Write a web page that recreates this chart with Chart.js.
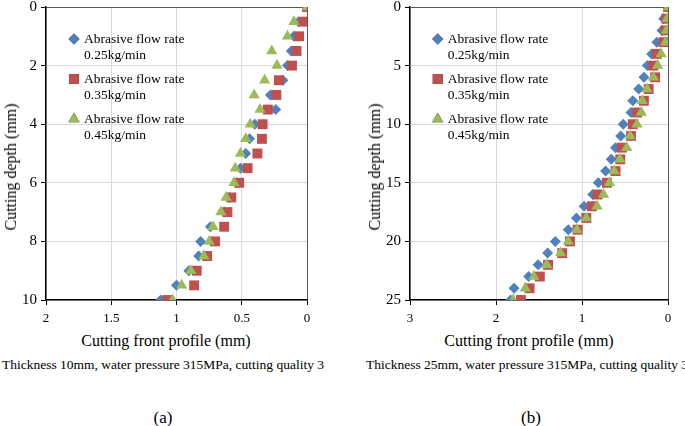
<!DOCTYPE html>
<html>
<head>
<meta charset="utf-8">
<script src="https://cdn.jsdelivr.net/npm/chart.js"></script>
<style>
  body { margin: 0; background: #fff; }
  #page { position: relative; width: 685px; height: 426px; overflow: hidden; color: #000; }
  canvas { position: absolute; top: 0; }
  .txt { position: absolute; white-space: nowrap; line-height: 1; transform: translate(-50%, -50%);
         font-family: "Liberation Serif", "Times New Roman", serif; color: #000; }
  .rot { transform: translate(-50%, -50%) rotate(-90deg); }
</style>
</head>
<body>
<div id="page">
  <canvas id="chartA" width="342" height="330" style="left:0"></canvas>
  <canvas id="chartB" width="343" height="330" style="left:342px"></canvas>

  <div class="txt rot" style="left:11px; top:167px; font-size:16px">Cutting depth (mm)</div>
  <div class="txt rot" style="left:375px; top:167px; font-size:16px">Cutting depth (mm)</div>
  <div class="txt" style="left:166px; top:341px; font-size:16px">Cutting front profile (mm)</div>
  <div class="txt" style="left:529px; top:341px; font-size:16px">Cutting front profile (mm)</div>
  <div class="txt" style="left:163px; top:365px; font-size:13.5px">Thickness 10mm, water pressure 315MPa, cutting quality 3</div>
  <div class="txt" style="left:527px; top:365px; font-size:13.5px">Thickness 25mm, water pressure 315MPa, cutting quality 3</div>
  <div class="txt" style="left:163px; top:417px; font-size:17px">(a)</div>
  <div class="txt" style="left:531px; top:417px; font-size:17px">(b)</div>
</div>

<script>
// ---- data: (a) thickness 10 mm ----
const depthA = [0, 0.5, 1, 1.5, 2, 2.5, 3, 3.5, 4, 4.5, 5, 5.5, 6, 6.5, 7, 7.5, 8, 8.5, 9, 9.5, 10];
const profileA025 = [0, 0.065, 0.10, 0.12, 0.15, 0.185, 0.28, 0.24, 0.40, 0.44, 0.47, 0.51, 0.535, 0.595, 0.635, 0.74, 0.815, 0.83, 0.905, 1.0, 1.12];
const profileA035 = [0, 0.026, 0.06, 0.08, 0.115, 0.215, 0.235, 0.30, 0.34, 0.345, 0.38, 0.455, 0.52, 0.58, 0.61, 0.635, 0.705, 0.765, 0.845, 0.865, 1.07];
const profileA045 = [0, 0.10, 0.15, 0.27, 0.23, 0.325, 0.405, 0.36, 0.435, 0.47, 0.51, 0.55, 0.56, 0.62, 0.66, 0.72, 0.75, 0.79, 0.89, 0.96, 1.03];
const xTicksA = [2, 1.5, 1, 0.5, 0];
const yTicksA = [0, 2, 4, 6, 8, 10];

// ---- data: (b) thickness 25 mm ----
const depthB = [0, 1, 2, 3, 4, 5, 6, 7, 8, 9, 10, 11, 12, 13, 14, 15, 16, 17, 18, 19, 20, 21, 22, 23, 24, 25];
const profileB025 = [0, 0.05, 0.07, 0.13, 0.19, 0.24, 0.28, 0.34, 0.41, 0.43, 0.52, 0.55, 0.61, 0.66, 0.725, 0.81, 0.875, 0.975, 1.065, 1.16, 1.31, 1.40, 1.51, 1.62, 1.79, 1.83];
const profileB035 = [0, 0.02, 0.03, 0.05, 0.13, 0.17, 0.15, 0.225, 0.28, 0.36, 0.41, 0.43, 0.535, 0.555, 0.61, 0.71, 0.82, 0.885, 0.95, 1.05, 1.14, 1.23, 1.395, 1.49, 1.61, 1.71];
const profileB045 = [0, 0.01, 0.02, 0.03, 0.08, 0.12, 0.17, 0.245, 0.30, 0.31, 0.36, 0.44, 0.48, 0.56, 0.625, 0.68, 0.75, 0.825, 0.95, 1.06, 1.16, 1.25, 1.41, 1.56, 1.66, 1.80];
const xTicksB = [3, 2, 1, 0];
const yTicksB = [0, 5, 10, 15, 20, 25];

const seriesLabels = [
  ['Abrasive flow rate', '0.25kg/min'],
  ['Abrasive flow rate', '0.35kg/min'],
  ['Abrasive flow rate', '0.45kg/min']
];

const serif = '"Liberation Serif", "Times New Roman", serif';

// marker look per series (Excel 2007 palette)
const markers = [
  { pointStyle: 'rectRot', radius: 5.5, color: '#4F81BD', order: 3 },
  { pointStyle: 'rect', radius: 7, color: '#C0504D', order: 2 },
  { pointStyle: 'triangle', radius: 6.5, color: '#9BBB59', order: 1 }
];

function toPoints(xs, ys) {
  return xs.map((x, i) => ({ x: x, y: ys[i] }));
}

// two-line legend drawn inside the plot
const innerLegend = {
  id: 'innerLegend',
  afterDraw(chart, args, opts) {
    const ctx = chart.ctx;
    ctx.save();
    ctx.font = '13.5px ' + serif;
    ctx.textBaseline = 'middle';
    chart.data.datasets.forEach((ds, i) => {
      const y = 39 + i * 40;
      Chart.helpers.drawPoint(ctx, {
        pointStyle: ds.pointStyle,
        radius: ds.pointRadius,
        rotation: 0,
        borderWidth: 0
      }, opts.x, y);
      ctx.fillStyle = ds.backgroundColor;
      ctx.fill();
      ctx.fillStyle = '#000';
      ds.legendText.forEach((line, j) => ctx.fillText(line, opts.x + 10, y + j * 16));
    });
    ctx.restore();
  }
};

function makeChart(id, depth, profiles, xMax, xTicks, yMax, yTicks, yWidth, padRight, legendX) {
  const datasets = profiles.map((p, i) => ({
    label: seriesLabels[i].join(' '),
    legendText: seriesLabels[i],
    data: toPoints(p, depth),
    pointStyle: markers[i].pointStyle,
    pointRadius: markers[i].radius,
    pointHoverRadius: markers[i].radius,
    backgroundColor: markers[i].color,
    borderColor: markers[i].color,
    borderWidth: 0,
    order: markers[i].order
  }));

  return new Chart(id, {
    type: 'scatter',
    data: { datasets: datasets },
    plugins: [innerLegend],
    options: {
      responsive: false,
      animation: false,
      layout: { padding: { top: 5, right: padRight, bottom: 0, left: 0 } },
      plugins: {
        legend: { display: false },
        tooltip: { enabled: false },
        innerLegend: { x: legendX }
      },
      scales: {
        x: {
          type: 'linear',
          position: 'bottom',
          min: 0,
          max: xMax,
          reverse: true,
          afterBuildTicks: s => { s.ticks = xTicks.map(v => ({ value: v })); },
          afterFit: s => { s.height = 30; s.paddingLeft = 0; s.paddingRight = 0; },
          ticks: {
            color: '#000',
            padding: 6,
            font: { family: serif, size: 13 },
            callback: v => String(v)
          },
          grid: {
            color: c => (c.tick && c.tick.value === 0) ? '#595959' : '#d9d9d9',
            lineWidth: 1,
            tickColor: '#000',
            tickLength: 5
          },
          border: { color: '#000', width: 1.5 }
        },
        y: {
          type: 'linear',
          min: 0,
          max: yMax,
          reverse: true,
          afterBuildTicks: s => { s.ticks = yTicks.map(v => ({ value: v })); },
          afterFit: s => { s.width = yWidth; s.paddingTop = 0; s.paddingBottom = 0; },
          ticks: {
            color: '#000',
            padding: 4,
            font: { family: serif, size: 15 },
            callback: v => String(v)
          },
          grid: {
            color: c => (c.tick && c.tick.value === 0) ? '#595959' : '#d9d9d9',
            lineWidth: 1,
            tickColor: '#000',
            tickLength: 5
          },
          border: { color: '#000', width: 1.5 }
        }
      }
    }
  });
}

makeChart('chartA', depthA, [profileA025, profileA035, profileA045], 2, xTicksA, 10, yTicksA, 46, 35, 74);
makeChart('chartB', depthB, [profileB025, profileB035, profileB045], 3, xTicksB, 25, yTicksB, 68, 17, 95.7);
</script>
</body>
</html>
